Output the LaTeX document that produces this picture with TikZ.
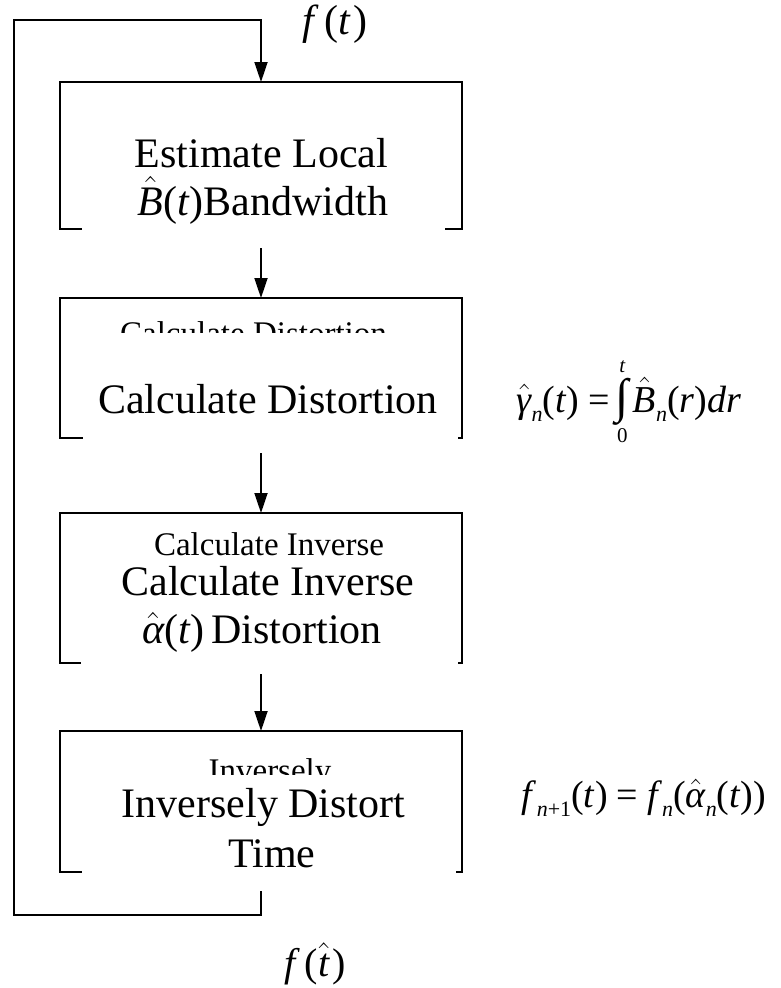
\documentclass[tikz,border=0pt]{standalone}
\usepackage{fix-cm}
\usepackage{amsmath}
\usepackage{fontspec}
\setmainfont{Liberation Serif}
\usepackage{tikz}
\usetikzlibrary{arrows.meta}

\newcommand{\vi}[1]{\textit{#1}}
\newcommand{\hv}[1]{$\hat{\hbox{\itshape #1}}$}
\newcommand{\ix}[1]{\raisebox{-9pt}{\fontsize{22}{22}\selectfont\itshape #1}}
\newcommand{\intlim}[1]{\hbox{\fontsize{21}{21}\selectfont #1}}

\tikzset{
  stage/.style={rectangle, draw=black, line width=1.9pt, minimum width=402pt,
    inner sep=0pt, outer sep=0pt},
  bigtxt/.style={font=\fontsize{42}{48}\selectfont, inner sep=0pt, anchor=base},
  smalltxt/.style={font=\fontsize{33}{38}\selectfont, inner sep=0pt, anchor=base},
  eqtxt/.style={font=\fontsize{38}{42}\selectfont, inner sep=0pt, anchor=base},
  arr/.style={-{Triangle[length=20pt, width=13pt]}, line width=1.8pt},
  cover/.style={fill=white},
}

\begin{document}
\begin{tikzpicture}[x=1pt, y=-1pt]
  \useasboundingbox (0,0) rectangle (780,988);
  % processing stages
  \node[stage, minimum height=147pt] (b1) at (261,155.5) {};
  \node[stage, minimum height=140pt] (b2) at (261,368) {};
  \node[stage, minimum height=150pt] (b3) at (261,588) {};
  \node[stage, minimum height=141pt] (b4) at (261,801.5) {};
  % feedback loop
  \coordinate (loopbot) at (14,915);
  \coordinate (looptop) at (14,20);
  \draw[arr] (b4.south) |- (loopbot) -- (looptop) -| (b1.north);
  \draw[arr] (b1) -- (b2); \draw[arr] (b2) -- (b3); \draw[arr] (b3) -- (b4);
  % half hidden captions
  \node[smalltxt] (s2) at (253.5,344) {Calculate Distortion};
  \node[smalltxt] (s3) at (269,555) {Calculate Inverse};
  \node[smalltxt] (s4) at (270,781) {Inversely};
  % white text backgrounds
  \fill[cover] (82,100) rectangle (445,248);
  \fill[cover] (83,333) rectangle (458,453);
  \fill[cover] (81,558) rectangle (458,674);
  \fill[cover] (82,775) rectangle (456,891);
  \node[bigtxt] (t1a) at (261.5,167) {Estimate Local};
  \node[bigtxt] (t1b) at (263,215) {\hv{B}(\vi{t})Bandwidth};
  \node[bigtxt] (t2) at (268,413) {Calculate Distortion};
  \node[bigtxt] (t3a) at (268,595) {Calculate Inverse};
  \node[bigtxt] (t3b) at (262,643) {\hv{α}(\vi{t})\,Distortion};
  \node[bigtxt] (t4a) at (263.5,817) {Inversely Distort};
  \node[bigtxt] (t4b) at (272,867) {Time};
  % signals and formulas
  \node[bigtxt] (fin) at (335,34) {\vi{f}\kern5pt(\vi{t}\kern3pt)};
  \node[bigtxt, font=\fontsize{40}{44}\selectfont] (fout) at (315,976)
    {\vi{f}\kern5pt(\hv{t}\kern3pt)};
  \node[eqtxt] (gam) at (629,412)
    {\hv{γ}\ix{n}(\vi{t})\kern9pt=\kern6pt$\mathop{\hbox{\fontsize{48}{48}\selectfont ∫}}\limits^{\intlim{\itshape t}}_{\intlim{0}}$\kern4pt\hv{B}\ix{n}(\vi{r})\vi{dr}};
  \node[eqtxt] (upd) at (644,807)
    {\vi{f}\ix{n\textup{+1}}(\vi{t})\kern9pt=\kern9pt\vi{f}\ix{n}(\hv{α}\ix{n}(\vi{t}))};
\end{tikzpicture}
\end{document}
